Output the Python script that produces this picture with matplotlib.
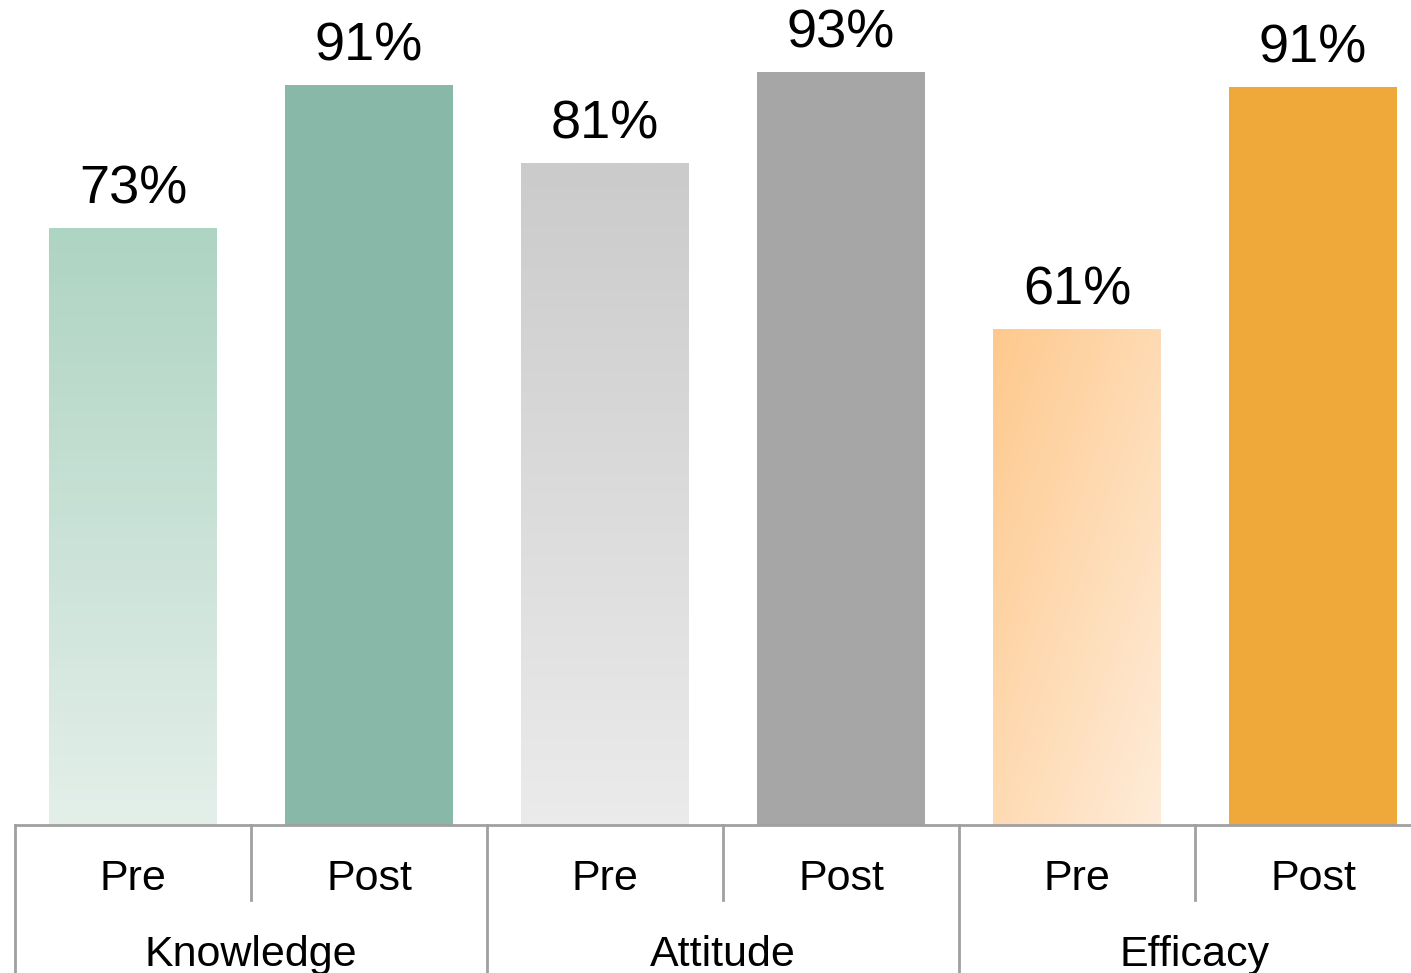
import numpy as np
import matplotlib
matplotlib.use('Agg')
import matplotlib.pyplot as plt
from matplotlib.colors import LinearSegmentedColormap

plt.rcParams['font.family'] = ['Liberation Sans', 'DejaVu Sans']

# Data
groups = ['Knowledge', 'Attitude', 'Efficacy']
phases = ['Pre', 'Post']
values = [73.5, 91.1, 81.5, 92.7, 61.0, 90.9]
labels = ['73%', '91%', '81%', '93%', '61%', '91%']

# Pre bars use gradients, post bars solid
pre_grads = [('#aed4c3', '#e4efea', 'vertical'),
             ('#cbcbcb', '#ebebeb', 'vertical'),
             ('#fec98d', '#feecd9', 'diagonal')]
post_colors = ['#88b9a8', '#a6a6a6', '#efa93a']

fig = plt.figure(figsize=(14.11, 9.73), dpi=100)
# the last category runs a little past the right edge of the picture
ax = fig.add_axes([15 / 1411, 1 - 825 / 973, 1416 / 1411, 825 / 973])

x = np.arange(len(values))
width = 0.708

bars = ax.bar(x, values, width=width, color='none', edgecolor='none')

for i, bar in enumerate(bars):
    g = i // 2
    if i % 2 == 1:
        bar.set_facecolor(post_colors[g])
    else:
        top, bottom, mode = pre_grads[g]
        cmap = LinearSegmentedColormap.from_list('g%d' % g, [top, bottom])
        yy, xx = np.mgrid[0:1:200j, 0:1:100j]
        if mode == 'vertical':
            z = yy
        else:
            z = (yy + xx) / 2
        x0 = bar.get_x()
        ax.imshow(z, cmap=cmap, aspect='auto', origin='upper',
                  extent=[x0, x0 + bar.get_width(), 0, bar.get_height()],
                  interpolation='bilinear', zorder=1)
    ax.text(bar.get_x() + bar.get_width() / 2, bar.get_height() + 1.7,
            labels[i], ha='center', va='bottom', fontsize=39, color='black')

ax.set_xlim(-0.5, 5.5)
ax.set_ylim(0, 101.6)
for s in ax.spines.values():
    s.set_visible(False)
ax.set_xticks([])
ax.set_yticks([])

# Category table below the axes
line_kw = dict(color='#a0a0a0', lw=2, clip_on=False,
               transform=ax.get_xaxis_transform())
ax.plot([-0.5, 5.5], [0, 0], **line_kw)
for xv in [-0.5, 1.5, 3.5]:
    ax.plot([xv, xv], [0, -0.2], **line_kw)
for xv in [0.5, 2.5, 4.5]:
    ax.plot([xv, xv], [0, -0.091], **line_kw)

for i in x:
    ax.text(i, -0.066, phases[i % 2], ha='center', va='center', fontsize=31,
            transform=ax.get_xaxis_transform())
for g, name in enumerate(groups):
    ax.text(2 * g + 0.5, -0.157, name, ha='center', va='center', fontsize=31,
            transform=ax.get_xaxis_transform())

fig.savefig('out.png', dpi=100)
